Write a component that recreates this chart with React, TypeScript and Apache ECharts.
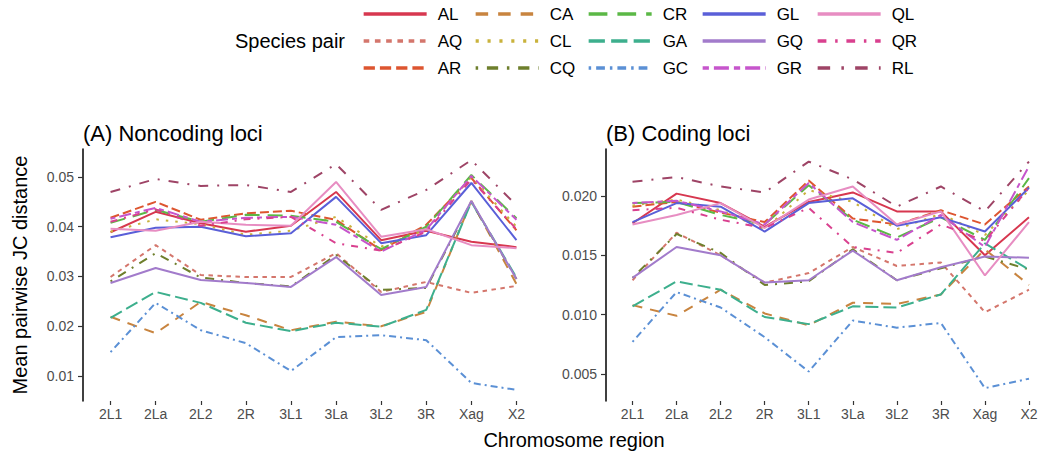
import React, { useEffect, useRef } from "react";
import * as echarts from "echarts";

// Chromosome regions along the x axis
const regions = ["2L1", "2La", "2L2", "2R", "3L1", "3La", "3L2", "3R", "Xag", "X2"];

// Species pairs, in legend order (column by column)
const pairs = ["AL", "AQ", "AR", "CA", "CL", "CQ", "CR", "GA", "GC", "GL", "GQ", "GR", "QL", "QR", "RL"];

// Mean pairwise JC distance, noncoding loci
const AL_nc = [0.0389, 0.043, 0.0407, 0.039, 0.0402, 0.047, 0.0373, 0.0392, 0.037, 0.0359];
const AQ_nc = [0.0299, 0.0363, 0.0303, 0.0299, 0.0299, 0.0347, 0.0269, 0.0289, 0.0267, 0.0281];
const AR_nc = [0.0418, 0.045, 0.0414, 0.0427, 0.0432, 0.0414, 0.0353, 0.0404, 0.0498, 0.0393];
const CA_nc = [0.0219, 0.0186, 0.0249, 0.0222, 0.0192, 0.0209, 0.02, 0.0229, 0.0452, 0.0285];
const CL_nc = [0.039, 0.0415, 0.0405, 0.0384, 0.0392, 0.042, 0.036, 0.0395, 0.05, 0.04];
const CQ_nc = [0.029, 0.0347, 0.0298, 0.0287, 0.028, 0.0343, 0.0273, 0.0277, 0.045, 0.0295];
const CR_nc = [0.0408, 0.0434, 0.041, 0.0424, 0.0422, 0.041, 0.0355, 0.04, 0.0504, 0.0417];
const GA_nc = [0.0217, 0.0269, 0.0247, 0.0207, 0.019, 0.0207, 0.0199, 0.0233, 0.045, 0.0298];
const GC_nc = [0.0148, 0.0247, 0.0192, 0.0166, 0.011, 0.0178, 0.0182, 0.0172, 0.0086, 0.0072];
const GL_nc = [0.0379, 0.0398, 0.04, 0.0381, 0.0387, 0.046, 0.0367, 0.0383, 0.0488, 0.0373];
const GQ_nc = [0.0287, 0.0317, 0.0293, 0.0287, 0.0279, 0.0339, 0.0263, 0.0279, 0.0452, 0.0295];
const GR_nc = [0.0416, 0.0438, 0.041, 0.0418, 0.042, 0.0404, 0.035, 0.0394, 0.0502, 0.0414];
const QL_nc = [0.0396, 0.0392, 0.041, 0.0404, 0.0402, 0.049, 0.038, 0.0395, 0.0363, 0.0357];
const QR_nc = [0.041, 0.0435, 0.0402, 0.0415, 0.042, 0.0367, 0.0352, 0.039, 0.0495, 0.0395];
const RL_nc = [0.047, 0.0496, 0.0482, 0.0484, 0.047, 0.0526, 0.0434, 0.0474, 0.0534, 0.0443];

// Mean pairwise JC distance, coding loci
const AL_cd = [0.0177, 0.0202, 0.0194, 0.0174, 0.0195, 0.0203, 0.0187, 0.0187, 0.015, 0.0182];
const AQ_cd = [0.0129, 0.0169, 0.015, 0.0127, 0.0135, 0.0157, 0.0141, 0.0144, 0.0102, 0.0121];
const AR_cd = [0.0191, 0.0195, 0.0186, 0.0178, 0.0213, 0.0181, 0.0176, 0.0188, 0.0176, 0.0208];
const CA_cd = [0.0108, 0.0099, 0.0121, 0.0101, 0.0091, 0.011, 0.0109, 0.0117, 0.0155, 0.0125];
const CL_cd = [0.0192, 0.0197, 0.0188, 0.0172, 0.0205, 0.0195, 0.0172, 0.0185, 0.0167, 0.0205];
const CQ_cd = [0.0131, 0.0168, 0.0152, 0.0125, 0.0128, 0.0155, 0.0129, 0.0139, 0.0149, 0.0138];
const CR_cd = [0.0194, 0.0195, 0.0184, 0.0176, 0.0209, 0.018, 0.0165, 0.0182, 0.0163, 0.0215];
const GA_cd = [0.0107, 0.0128, 0.0121, 0.0098, 0.0092, 0.0107, 0.0106, 0.0117, 0.016, 0.0138];
const GC_cd = [0.0077, 0.0119, 0.0106, 0.0081, 0.0052, 0.0095, 0.0089, 0.0093, 0.0038, 0.0046];
const GL_cd = [0.0178, 0.0194, 0.0191, 0.017, 0.0194, 0.0198, 0.0175, 0.0182, 0.017, 0.0207];
const GQ_cd = [0.0131, 0.0157, 0.015, 0.0127, 0.0129, 0.0154, 0.0129, 0.014, 0.0149, 0.0148];
const GR_cd = [0.0194, 0.0196, 0.0187, 0.0176, 0.0211, 0.0178, 0.0163, 0.0184, 0.0157, 0.0225];
const QL_cd = [0.0176, 0.0184, 0.0194, 0.0173, 0.0197, 0.0208, 0.0176, 0.0187, 0.0133, 0.0178];
const QR_cd = [0.0188, 0.019, 0.018, 0.0173, 0.019, 0.0157, 0.0152, 0.0176, 0.0162, 0.0207];
const RL_cd = [0.0212, 0.0216, 0.0208, 0.0203, 0.0229, 0.0214, 0.0191, 0.0208, 0.0187, 0.0229];

// Y axis tick values per panel
const ticksNoncoding = [0.01, 0.02, 0.03, 0.04, 0.05];
const ticksCoding = [0.005, 0.01, 0.015, 0.02];

const noncoding: Record<string, number[]> = {
  AL: AL_nc, AQ: AQ_nc, AR: AR_nc, CA: CA_nc, CL: CL_nc, CQ: CQ_nc, CR: CR_nc, GA: GA_nc,
  GC: GC_nc, GL: GL_nc, GQ: GQ_nc, GR: GR_nc, QL: QL_nc, QR: QR_nc, RL: RL_nc,
};
const coding: Record<string, number[]> = {
  AL: AL_cd, AQ: AQ_cd, AR: AR_cd, CA: CA_cd, CL: CL_cd, CQ: CQ_cd, CR: CR_cd, GA: GA_cd,
  GC: GC_cd, GL: GL_cd, GQ: GQ_cd, GR: GR_cd, QL: QL_cd, QR: QR_cd, RL: RL_cd,
};

// Colour and dash pattern of each pair (null = solid)
const styles: Record<string, { color: string; dash: number[] | null }> = {
  AL: { color: "#D7374F", dash: null },
  AQ: { color: "#D4766C", dash: [4.5, 4.5] },
  AR: { color: "#DD5530", dash: [9, 4] },
  CA: { color: "#C8843F", dash: [10, 8] },
  CL: { color: "#C9B23C", dash: [2.5, 7] },
  CQ: { color: "#6E7F2C", dash: [2, 7, 9, 7] },
  CR: { color: "#5BB846", dash: [15, 8] },
  GA: { color: "#3DAF8D", dash: [13, 5] },
  GC: { color: "#5B90D5", dash: [2, 4, 7, 4] },
  GL: { color: "#5A5FD8", dash: null },
  GQ: { color: "#A27BCB", dash: null },
  GR: { color: "#C655CC", dash: [5, 4, 12, 4] },
  QL: { color: "#E78DC2", dash: null },
  QR: { color: "#D9408F", dash: [7, 7, 2, 7] },
  RL: { color: "#9E4466", dash: [10, 9, 2, 9] },
};

const FONT = "'Liberation Sans', Arial, Helvetica, sans-serif";

const legendCols = [362, 474, 587, 701, 816];
const legendRows = [14, 41, 68];

export default function App() {
  const ref = useRef<HTMLDivElement>(null);

  useEffect(() => {
    if (!ref.current) return;
    const chart = echarts.init(ref.current, null, { renderer: "svg" });

    const series: any[] = [];
    pairs.forEach((p) => {
      const st = styles[p];
      [noncoding, coding].forEach((src, idx) => {
        series.push({
          type: "line",
          name: p,
          xAxisIndex: idx,
          yAxisIndex: idx,
          data: src[p],
          symbol: "none",
          showSymbol: false,
          lineStyle: { color: st.color, width: 2, type: st.dash ?? "solid" },
          itemStyle: { color: st.color },
          emphasis: { disabled: true },
        });
      });
    });

    const legends = pairs.map((p, i) => {
      const st = styles[p];
      const col = Math.floor(i / 3);
      const row = i % 3;
      return {
        data: [p],
        left: legendCols[col],
        top: legendRows[row] - 10,
        padding: 0,
        itemWidth: 63,
        itemHeight: 20,
        selectedMode: false,
        textStyle: { fontSize: 17, color: "#000", fontFamily: FONT, lineHeight: 20, padding: [0, 0, 0, 6] },
        itemStyle: { opacity: 0 },
        lineStyle: {
          width: 3.3,
          color: st.color,
          type: st.dash ? st.dash.map((d) => d * 1.25) : "solid",
        },
      };
    });

    const yAxisCommon = (ticks: number[], digits: number, min: number, max: number, offset: number, gridIndex: number) => ({
      type: "value",
      gridIndex,
      min,
      max,
      offset,
      axisLine: { show: true, lineStyle: { color: "#000", width: 1.5 } },
      axisTick: { show: true, length: 5, lineStyle: { color: "#333", width: 1.2 }, customValues: ticks },
      axisLabel: {
        customValues: ticks,
        formatter: (v: number) => v.toFixed(digits),
        fontSize: 14,
        color: "#4D4D4D",
        fontFamily: FONT,
        margin: 9,
      },
      splitLine: { show: false },
    });

    const xAxisCommon = (gridIndex: number) => ({
      type: "category",
      gridIndex,
      data: regions,
      boundaryGap: true,
      axisLine: { show: false },
      axisTick: { show: true, alignWithLabel: true, length: 4, lineStyle: { color: "#333", width: 1.2 } },
      axisLabel: { fontSize: 14, color: "#4D4D4D", fontFamily: FONT, margin: 6, interval: 0 },
      splitLine: { show: false },
    });

    chart.setOption({
      animation: false,
      backgroundColor: "#fff",
      textStyle: { fontFamily: FONT },
      grid: [
        { left: 88, top: 149, width: 451, height: 252 },
        { left: 610.5, top: 149, width: 451, height: 252 },
      ],
      xAxis: [xAxisCommon(0), xAxisCommon(1)],
      yAxis: [
        yAxisCommon(ticksNoncoding, 2, 0.00497, 0.05563, 5, 0),
        yAxisCommon(ticksCoding, 3, 0.00272, 0.02396, 4.5, 1),
      ],
      title: [
        { text: "(A) Noncoding loci", left: 83, top: 122, padding: 0, textStyle: { fontSize: 22, fontWeight: "normal", color: "#000", fontFamily: FONT } },
        { text: "(B) Coding loci", left: 606, top: 122, padding: 0, textStyle: { fontSize: 22, fontWeight: "normal", color: "#000", fontFamily: FONT } },
      ],
      legend: legends,
      graphic: [
        { type: "text", x: 345, y: 41, style: { text: "Species pair", fontSize: 20, fill: "#000", fontFamily: FONT, align: "right", verticalAlign: "middle" } },
        { type: "text", x: 20, y: 275, rotation: Math.PI / 2, style: { text: "Mean pairwise JC distance", fontSize: 20, fill: "#000", fontFamily: FONT, align: "center", verticalAlign: "middle" } },
        { type: "text", x: 574, y: 440, style: { text: "Chromosome region", fontSize: 20, fill: "#000", fontFamily: FONT, align: "center", verticalAlign: "middle" } },
      ],
      series,
    });

    return () => chart.dispose();
  }, []);

  return <div ref={ref} style={{ position: "absolute", left: 0, top: 0, width: 1051, height: 458 }} />;
}
